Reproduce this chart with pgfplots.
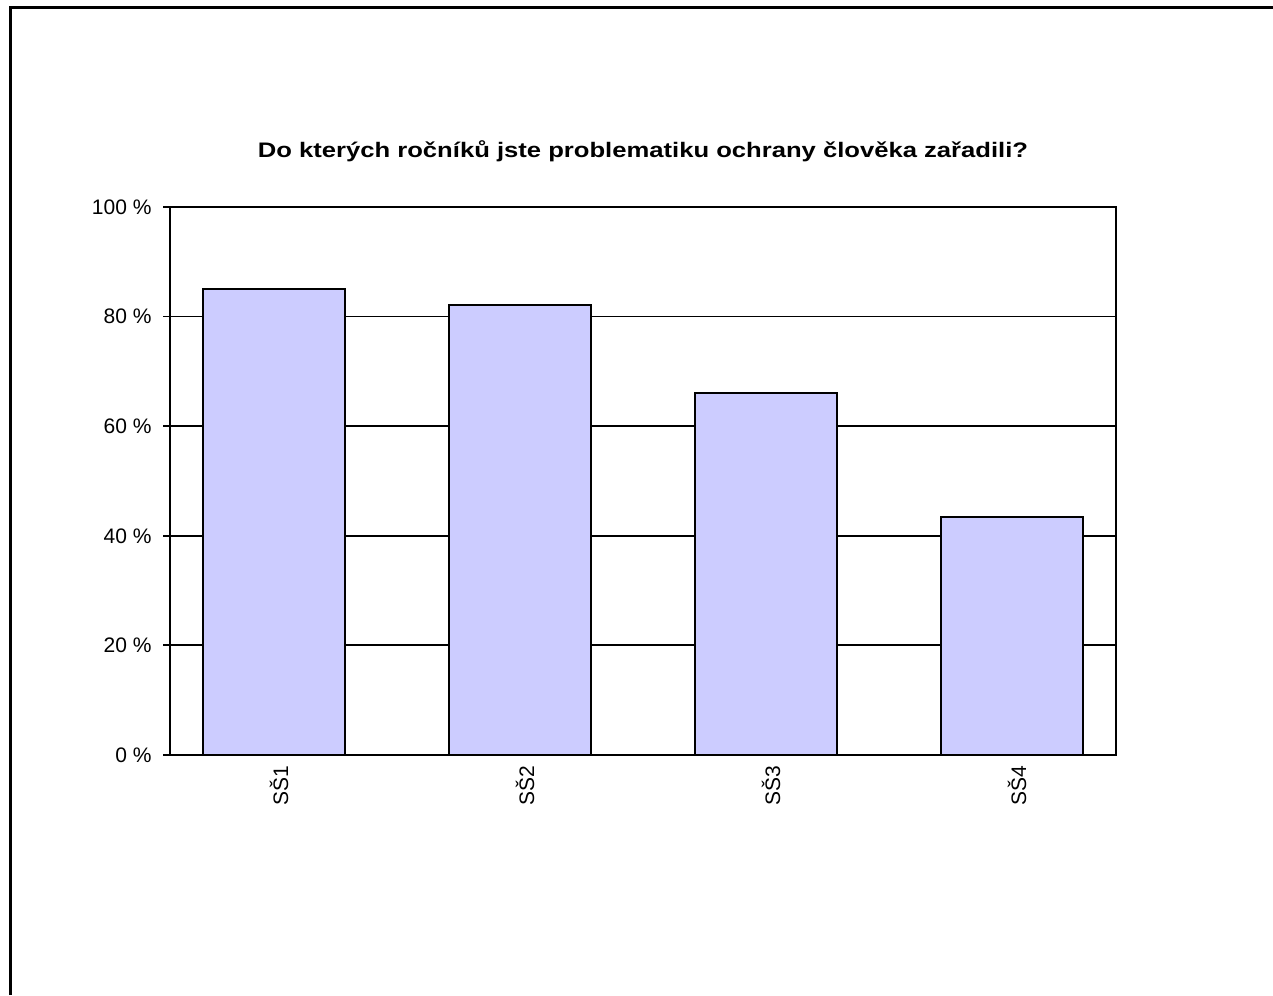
\documentclass[border=0pt]{standalone}
\usepackage{pgfplots}
\pgfplotsset{compat=1.18}
\usepackage{fontspec}
\setmainfont{Liberation Sans}
\newfontfamily\titlefont[FakeStretch=1.22]{Liberation Sans}
\definecolor{barfill}{HTML}{CCCCFF}
\begin{document}
\begin{tikzpicture}[x=1pt,y=1pt]
\useasboundingbox (0,0) rectangle (1273,995);
\draw[line width=3pt] (10.5,0) -- (10.5,987.5) -- (1273,987.5);
\begin{axis}[
  at={(170pt,240pt)}, anchor=south west,
  scale only axis, width=946pt, height=548pt,
  xmin=-0.4228, xmax=3.4228, ymin=0, ymax=100,
  xtick={0,1,2,3}, xticklabels={SŠ1,SŠ2,SŠ3,SŠ4},
  x tick label style={rotate=90, anchor=east, font=\fontsize{21}{24}\selectfont, yshift=-5pt},
  ytick={0,20,40,60,80,100},
  yticklabel={\pgfmathprintnumber{\tick}~\%},
  /pgf/number format/assume math mode=true,
  y tick label style={font=\fontsize{21}{24}\selectfont, xshift=-8pt},
  major tick length=7pt,
  tick align=outside,
  xtick style={draw=none},
  ytick pos=left,
  ymajorgrids, grid style={black, line width=1.8pt},
  axis line style={line width=2pt},
  tick style={black, line width=1.8pt},
  title={\titlefont\bfseries Do kterých ročníků jste problematiku ochrany člověka zařadili?},
  title style={font=\fontsize{21}{24}\selectfont, yshift=36pt},
]
\addplot[ybar, bar width=142pt, fill=barfill, draw=black, line width=2pt]
  coordinates {(0,85.0) (1,82.1) (2,66.1) (3,43.4)};
\end{axis}
\end{tikzpicture}
\end{document}
